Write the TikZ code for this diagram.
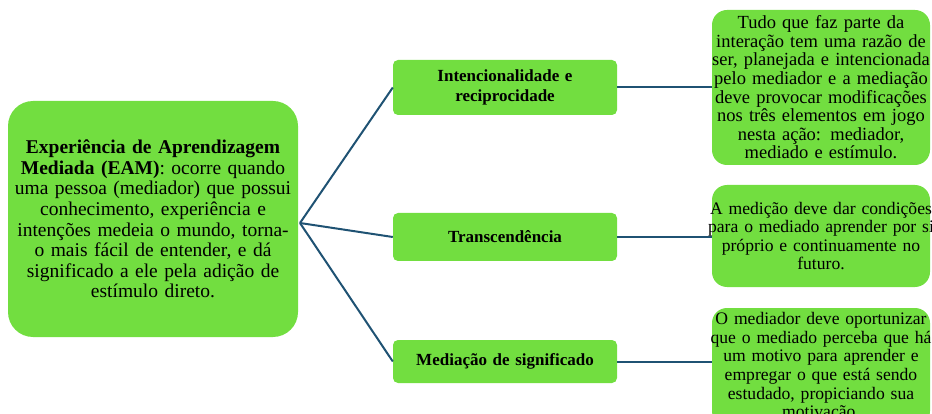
\documentclass[tikz,border=0pt]{standalone}
\usepackage{fontspec}
\setmainfont{Liberation Serif}
\definecolor{boxgreen}{RGB}{114,222,64}
\definecolor{linkblue}{RGB}{31,82,115}
\newcommand\sideline[1]{\makebox[218pt]{#1}}
\begin{document}
\begin{tikzpicture}[x=1pt,y=-1pt,
  gbox/.style={fill=boxgreen, inner sep=0pt, align=center, text=black},
  mainbox/.style={gbox, rounded corners=25pt, minimum width=290pt, minimum height=236pt, text width=280pt,
     font=\fontsize{19.5}{20.6}\selectfont},
  midbox/.style={gbox, rounded corners=5pt, minimum width=224pt, text width=224pt,
     font=\fontsize{17}{19.5}\selectfont\bfseries},
  sidebox/.style={gbox, rounded corners=15pt, minimum width=218pt, text width=218pt,
     font=\fontsize{18.5}{18.6}\selectfont},
  smallside/.style={font=\fontsize{17.6}{18.6}\selectfont},
  link/.style={draw=linkblue, line width=2pt}
]
\useasboundingbox (0,0) rectangle (932,414);
\begin{scope}
\clip (0,0) rectangle (932,414);

\node[mainbox] (eam) at (153,219) {\textbf{Experiência de Aprendizagem}\\
\textbf{Mediada (EAM)}: ocorre quando\\
uma pessoa (mediador) que possui\\
conhecimento, experiência e\\
intenções medeia o mundo, torna-\\
o mais fácil de entender, e dá\\
significado a ele pela adição de\\
estímulo direto.};

\node[midbox, minimum height=55pt] (m1) at (505,87.5) {Intencionalidade e\\reciprocidade};
\node[midbox, minimum height=48pt] (m2) at (505,237) {Transcendência};
\node[midbox, minimum height=43pt] (m3) at (505,361.5) {Mediação de significado};

\node[sidebox, minimum height=155pt] (r1) at (821,87.5) {\sideline{Tudo que faz parte da}\\
\sideline{interação tem uma razão de}\\
\sideline{ser, planejada e intencionada}\\
\sideline{pelo mediador e a mediação}\\
\sideline{deve provocar modificações}\\
\sideline{nos três elementos em jogo}\\
\sideline{nesta ação: mediador,}\\
\sideline{mediado e estímulo.}};
\node[sidebox, smallside, minimum height=102pt] (r2) at (821,236) {\sideline{A medição deve dar condições}\\
\sideline{para o mediado aprender por si}\\
\sideline{próprio e continuamente no}\\
\sideline{futuro.}};
\node[sidebox, smallside, minimum height=118pt] (r3) at (821,367) {\sideline{O mediador deve oportunizar}\\
\sideline{que o mediado perceba que há}\\
\sideline{um motivo para aprender e}\\
\sideline{empregar o que está sendo}\\
\sideline{estudado, propiciando sua}\\
\sideline{motivação.}};

\coordinate (hub) at (300,223);
\draw[link] (hub) -- (m1.west);
\draw[link] (hub) -- (m2.west);
\draw[link] (hub) -- (m3.west);
\draw[link] (m1.east) -- (m1.east -| r1.west);
\draw[link] (m2.east) -- (m2.east -| r2.west);
\draw[link] (m3.east) -- (m3.east -| r3.west);
\end{scope}
\end{tikzpicture}
\end{document}
